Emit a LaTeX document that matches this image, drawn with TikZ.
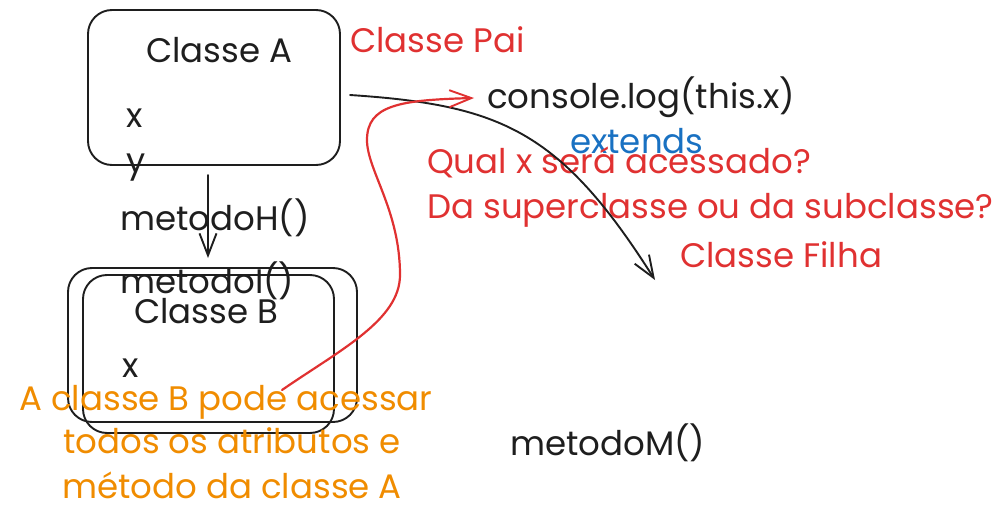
\documentclass[tikz,border=0pt]{standalone}
\usepackage{fontspec}
\setmainfont{Poppins}
\usetikzlibrary{arrows.meta}
\definecolor{exblack}{HTML}{1E1E1E}
\definecolor{exred}{HTML}{E03131}
\definecolor{exorange}{HTML}{F08C00}
\definecolor{exblue}{HTML}{1971C2}
\begin{document}
\begin{tikzpicture}[x=1pt,y=-1pt,
  txt/.style={font=\fontsize{34}{44}\selectfont, inner sep=0pt, anchor=base west, text=exblack},
  note/.style={txt, text=exorange, anchor=base},
  box/.style={draw=exblack, line width=1.9pt, rounded corners=24pt, inner sep=0pt},
  arr/.style={line width=1.9pt, line cap=round, -{Straight Barb[length=22pt,width=17pt,line width=1.9pt]}}]
\useasboundingbox (0,0) rectangle (1005,522);
% boxes
\node[box, minimum width=252pt, minimum height=155pt] (boxA) at (214,87.5) {};
\node[box, minimum width=289pt, minimum height=154pt] (boxBo) at (212.5,345) {};
\node[box, minimum width=251pt, minimum height=158pt] (boxBi) at (208.5,354) {};
% texts
\node[txt] (ca) at (146,62) {Classe A};
\node[txt] (xa) at (126,127) {x};
\node[txt] (ya) at (126,172) {y};
\node[txt] (mh) at (120,230) {metodoH()};
\node[txt] (mi) at (120,293) {metodoI()};
\node[txt] (cb) at (134,323) {Classe B};
\node[txt] (xb) at (122,377) {x};
\node[txt, text=exred] (pai) at (350,52) {Classe Pai};
\node[txt] (log) at (487,108) {console.log(this.x)};
\node[txt, text=exblue] (ext) at (570,153) {extends};
\node[txt, text=exred] (q1) at (427,173) {Qual x será acessado?};
\node[txt, text=exred] (q2) at (427,218) {Da superclasse ou da subclasse?};
\node[txt, text=exred] (filha) at (680,267) {Classe Filha};
\node[txt] (mm) at (510,455) {metodoM()};
\node[note] (n1) at (226,410) {A classe B pode acessar};
\node[note] (n2) at (232,453) {todos os atributos e};
\node[note] (n3) at (232,498) {método da classe A};
% connectors
\coordinate (a1) at (208,175);
\coordinate (a2) at (208,258);
\draw[arr, exblack] (a1) -- (a2);
\coordinate (b1) at (350,95);
\coordinate (b2) at (655,280);
\draw[arr, exblack] (b1) .. controls (500,105) and (560,130) .. (b2);
\coordinate (r1) at (282,390);
\coordinate (r2) at (474,98);
\draw[arr, exred, line width=2.2pt] (r1) .. controls (340,350) and (400,320) .. (400,275)
  .. controls (400,210) and (367,170) .. (367,140)
  .. controls (367,105) and (400,100) .. (r2);
\end{tikzpicture}
\end{document}
